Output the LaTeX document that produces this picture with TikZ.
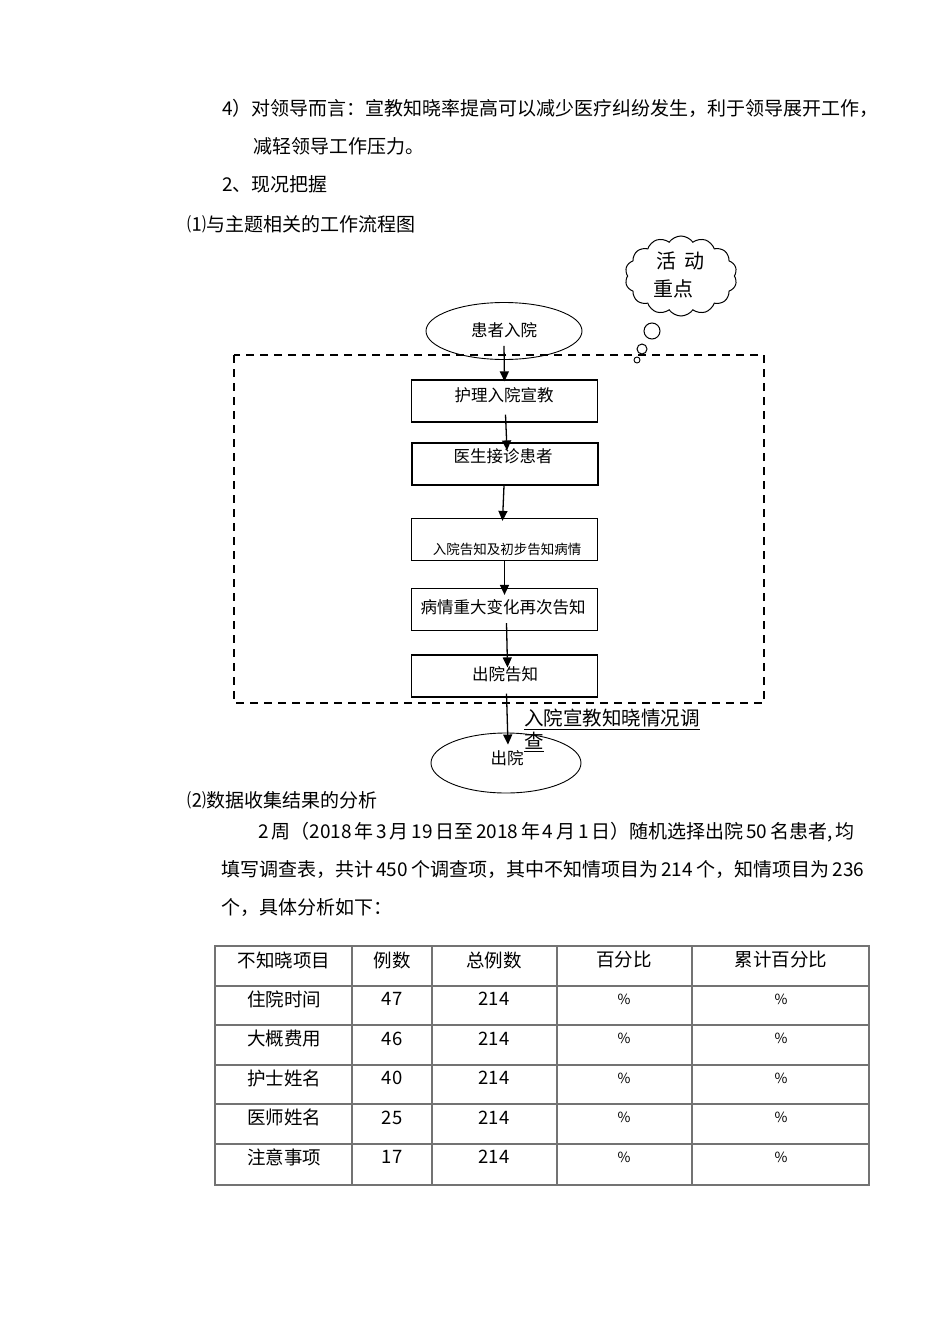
\documentclass[tikz,border=0pt]{standalone}
\usepackage{fontspec}
\setmainfont{Noto Sans CJK SC}
\usetikzlibrary{arrows.meta,shapes.geometric,shapes.symbols,calc}
\newcommand{\gp}{\hspace{2.8pt}}
\newcommand{\gq}{\hspace{3.2pt}}
\begin{document}
\begin{tikzpicture}[x=1pt,y=-1pt,
  body/.style={anchor=west,inner sep=0pt,font=\fontsize{19}{21}\selectfont},
  flowbox/.style={draw,line width=1.2pt,minimum width=186pt,minimum height=42pt,inner sep=0pt},
  flowtxt/.style={inner sep=0pt,font=\fontsize{16.5}{18}\selectfont},
  term/.style={draw,ellipse,line width=0.9pt,minimum width=156pt,minimum height=57pt,inner sep=0pt},
  arr/.style={line width=1.3pt,-{Triangle[length=10pt,width=9pt]}},
  cell/.style={inner sep=0pt,font=\fontsize{18.5}{20}\selectfont},
  pct/.style={inner sep=0pt,font=\fontsize{14}{16}\selectfont},
  grid/.style={draw=black!55,line width=1.3pt}
]
\useasboundingbox (0,0) rectangle (950,1344);
% body text
\node[body] (p1) at (222,108) {4）对领导而言：宣教知晓率提高可以减少医疗纠纷发生，利于领导展开工作，};
\node[body] (p2) at (253,146) {减轻领导工作压力。};
\node[body] (p3) at (222,184) {2、现况把握};
\node[body] (p4) at (187,224) {⑴与主题相关的工作流程图};
% cloud
\node[cloud,draw,line width=1pt,cloud puffs=14,cloud puff arc=110,aspect=1.4,minimum width=112pt,minimum height=80pt,inner sep=0pt] (cloud) at (681,276) {};
\node[inner sep=0pt,font=\fontsize{20}{22}\selectfont] (c1) at (680,261) {活\hspace{8pt}动};
\node[inner sep=0pt,font=\fontsize{20}{22}\selectfont] (c2) at (673,289) {重点};
\node[circle,draw,line width=1pt,minimum size=16pt,inner sep=0pt] (b1) at (652,331) {};
\node[circle,draw,line width=1pt,minimum size=10pt,inner sep=0pt] (b2) at (642,349) {};
\node[circle,draw,line width=0.9pt,minimum size=6pt,inner sep=0pt] (b3) at (637,360) {};
% dashed frame
\draw[line width=2pt,dash pattern=on 8pt off 6pt] (234,355) rectangle (764,703);
% flow
\node[term] (s) at (504,331) {};
\node[flowtxt] (st) at (504,330) {患者入院};
\node[flowbox] (f1) at (504.5,401) {};
\node[flowtxt] (f1t) at (504,395) {护理入院宣教};
\node[flowbox] (f2) at (505,464) {};
\node[flowtxt] (f2t) at (503,456) {医生接诊患者};
\node[flowbox] (f3) at (504.5,539.5) {};
\node[inner sep=0pt,font=\fontsize{13.5}{15}\selectfont] (f3t) at (507,549) {入院告知及初步告知病情};
\node[flowbox] (f4) at (504.5,609.5) {};
\node[flowtxt] (f4t) at (503,607) {病情重大变化再次告知};
\node[flowbox] (f5) at (504.5,676) {};
\node[flowtxt] (f5t) at (505,674) {出院告知};
\node[term,minimum width=150pt,minimum height=60pt] (e) at (506,763) {};
\node[flowtxt] (et) at (507,758) {出院};
\draw[arr] ([yshift=14]s.south) -- ([yshift=-2]f1.north);
\draw[arr] ([xshift=1,yshift=8]f1.south) -- ([xshift=2,yshift=-8]f2.north);
\draw[arr] ([xshift=-1]f2.south) -- ([xshift=-2,yshift=-3]f3.north);
\draw[arr] (f3.south) -- ([yshift=-7]f4.north);
\draw[arr] ([xshift=2,yshift=8]f4.south) -- ([xshift=3,yshift=-13]f5.north);
\draw[arr] ([xshift=2,yshift=4]f5.south) -- ([xshift=2,yshift=-12]e.north);
% label
\node[inner sep=0pt,anchor=west,font=\fontsize{19.5}{21}\selectfont] (l1) at (524,718) {入院宣教知晓情况调};
\node[inner sep=0pt,anchor=west,font=\fontsize{19.5}{21}\selectfont] (l2) at (524,741) {查};
\draw[line width=1pt] (l1.south west) ++(0,2) -- ($(l1.south east)+(0,2)$);
\draw[line width=1pt] (l2.south west) ++(0,2) -- ($(l2.south east)+(0,2)$);
% section 2
\node[body] (q1) at (187,800) {⑵数据收集结果的分析};
\node[body] (q2) at (258,832) {2\gp 周（2018\gp 年\gp 3\gp 月\gp 19\gp 日至\gp 2018\gp 年\gp 4\gp 月\gp 1\gp 日）随机选择出院\gp 50\gp 名患者,\,均};
\node[body] (q3) at (221,870) {填写调查表，共计\gq 450\gq 个调查项，其中不知情项目为\gq 214\gq 个，知情项目为\gq 236};
\node[body] (q4) at (221,908) {个，具体分析如下：};
% table
\draw[grid] (215,946) rectangle (869,1185);
\foreach \x in {352,432,557,692} \draw[grid] (\x,946) -- (\x,1185);
\foreach \y in {986,1025,1065,1104,1144} \draw[grid] (215,\y) -- (869,\y);
\node[cell] (h1) at (284,960) {不知晓项目};
\node[cell] (h2) at (392,960) {例数};
\node[cell] (h3) at (494,960) {总例数};
\node[cell] (h4) at (624,960) {百分比};
\node[cell] (h5) at (781,960) {累计百分比};
\foreach \n/\a/\b [count=\i] in {住院时间/47/0,大概费用/46/1,护士姓名/40/2,医师姓名/25/3,注意事项/17/4}{
  \pgfmathsetmacro{\yy}{999+39.5*\b}
  \node[cell] (r\i a) at (284,\yy) {\n};
  \node[cell] (r\i b) at (392,\yy) {\a};
  \node[cell] (r\i c) at (494,\yy) {214};
  \node[pct] (r\i d) at (624,\yy) {\%};
  \node[pct] (r\i e) at (781,\yy) {\%};
}
\end{tikzpicture}
\end{document}
